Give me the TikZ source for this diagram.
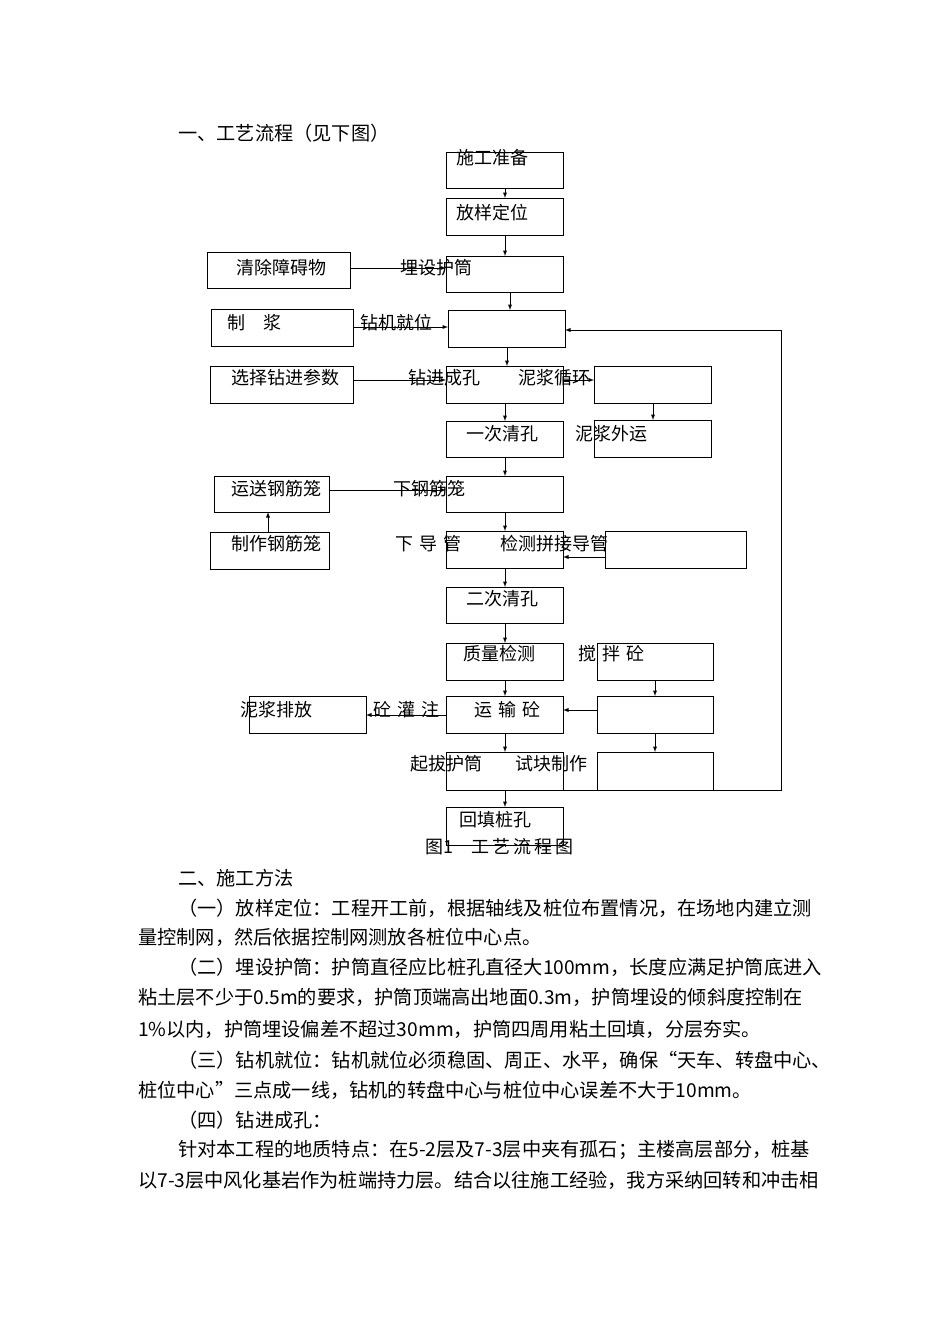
\documentclass[tikz,border=0pt]{standalone}
\usepackage{fontspec}
\setmainfont{Noto Sans CJK SC}
\begin{document}
\begin{tikzpicture}[x=1pt,y=-1pt,
  bx/.style={draw,line width=0.9pt},
  tx/.style={anchor=west,inner sep=0,font=\fontsize{18}{18}\selectfont},
  pt/.style={anchor=west,inner sep=0,font=\fontsize{19.2}{19.2}\selectfont},
  ar/.style={-latex,line width=0.9pt},
  ln/.style={line width=0.9pt}]
\useasboundingbox[fill=white] (0,0) rectangle (950,1344);
\node[pt] (h1) at (178,133) {一、工艺流程（见下图）};
% center boxes
\foreach \n/\t/\b in {c1/152/188,c2/198/235,c3/256/292,c5/366/403,c6/421/457,c7/476/512,c8/531/568,c9/587/623,c10/643/680,c11/696/733,c12/752/790,c13/807/845}
  \draw[bx] (446,\t) rectangle (563,\b) coordinate (\n);
\draw[bx] (448,310) rectangle (565,347);
% left boxes
\draw[bx] (207,252) rectangle (350,288);
\draw[bx] (211,309) rectangle (353,346);
\draw[bx] (210,366) rectangle (353,403);
\draw[bx] (214,476) rectangle (329,512);
\draw[bx] (210,532) rectangle (329,569);
\draw[bx] (249,696) rectangle (366,733);
% right boxes
\draw[bx] (594,366) rectangle (711,403);
\draw[bx] (594,420) rectangle (711,457);
\draw[bx] (605,531) rectangle (746,568);
\draw[bx] (597,643) rectangle (713,680);
\draw[bx] (597,696) rectangle (713,733);
\draw[bx] (597,752) rectangle (713,790);
% labels
\node[tx] (t1) at (456,158) {施工准备};
\node[tx] (t2) at (456,213) {放样定位};
\node[tx] (t3) at (400,268) {埋设护筒};
\node[tx] (t4) at (360,323) {钻机就位};
\node[tx] (t5) at (408,378) {钻进成孔};
\node[tx] (t6) at (466,434) {一次清孔};
\node[tx] (t7) at (393,489) {下钢筋笼};
\node[tx] (t8) at (395,544) {下\,\,导\,\,管};
\node[tx] (t9) at (466,599) {二次清孔};
\node[tx] (t10) at (463,654) {质量检测};
\node[tx] (t11) at (474,710) {运\,\,输\,\,砼};
\node[tx] (t12) at (410,764) {起拔护筒};
\node[tx] (t13) at (459,820) {回填桩孔};
\node[tx] (l1) at (236,268) {清除障碍物};
\node[tx] (l2) at (227,323) {制\quad 浆};
\node[tx] (l3) at (231,378) {选择钻进参数};
\node[tx] (l4) at (231,489) {运送钢筋笼};
\node[tx] (l5) at (231,544) {制作钢筋笼};
\node[tx] (l6) at (240,710) {泥浆排放};
\node[tx] (l7) at (373,710) {砼\,\,灌\,\,注};
\node[tx] (r1) at (518,378) {泥浆循环};
\node[tx] (r2) at (575,434) {泥浆外运};
\node[tx] (r3) at (500,544) {检测拼接导管};
\node[tx] (r4) at (578,654) {搅\,\,拌\,\,砼};
\node[tx] (r5) at (515,764) {试块制作};
\node[tx] (cap) at (425,847) {图1\quad 工\,艺\,流\,程\,图};
% center arrows
\draw[ar] (505,188) -- (505,198);
\draw[ar] (505,235) -- (505,256);
\draw[ar] (510,292) -- (510,310);
\draw[ar] (507,347) -- (507,366);
\draw[ar] (505,403) -- (505,421);
\draw[ar] (505,457) -- (505,476);
\draw[ar] (505,512) -- (505,531);
\draw[ar] (505,568) -- (505,587);
\draw[ar] (505,623) -- (505,643);
\draw[ar] (505,680) -- (505,696);
\draw[ar] (505,733) -- (505,752);
\draw[ar] (505,790) -- (505,807);
\draw[ln] (505,845) -- (505,847);
% side arrows
\draw[ar] (350,268) -- (446,268);
\draw[ar] (353,327) -- (448,327);
\draw[ar] (353,380) -- (446,380);
\draw[ar] (329,490) -- (446,490);
\draw[ar] (268,532) -- (268,512);
\draw[ar] (563,380) -- (594,380);
\draw[ar] (653,403) -- (653,420);
\draw[ar] (605,557) -- (563,557);
\draw[ar] (655,680) -- (655,696);
\draw[ar] (655,733) -- (655,752);
\draw[ar] (597,710) -- (563,710);
\draw[ar] (446,715) -- (366,715);
\draw[ln] (563,790) -- (781,790) -- (781,330);
\draw[ar] (781,330) -- (565,330);
% body text
\node[pt] (p0) at (178,878) {二、施工方法};
\node[pt] (p1) at (178,908) {（一）放样定位：工程开工前，根据轴线及桩位布置情况，在场地内建立测};
\node[pt] (p2) at (138,937) {量控制网，然后依据控制网测放各桩位中心点。};
\node[pt] (p3) at (178,967) {（二）埋设护筒：护筒直径应比桩孔直径大100mm，长度应满足护筒底进入};
\node[pt] (p4) at (138,997) {粘土层不少于0.5m的要求，护筒顶端高出地面0.3m，护筒埋设的倾斜度控制在};
\node[pt] (p5) at (138,1029) {1\%以内，护筒埋设偏差不超过30mm，护筒四周用粘土回填，分层夯实。};
\node[pt] (p6) at (178,1060) {（三）钻机就位：钻机就位必须稳固、周正、水平，确保“天车、转盘中心、};
\node[pt] (p7) at (138,1090) {桩位中心”三点成一线，钻机的转盘中心与桩位中心误差不大于10mm。};
\node[pt] (p8) at (178,1120) {（四）钻进成孔：};
\node[pt] (p9) at (178,1150) {针对本工程的地质特点：在5-2层及7-3层中夹有孤石；主楼高层部分，桩基};
\node[pt] (p10) at (138,1180) {以7-3层中风化基岩作为桩端持力层。结合以往施工经验，我方采纳回转和冲击相};
\end{tikzpicture}
\end{document}
